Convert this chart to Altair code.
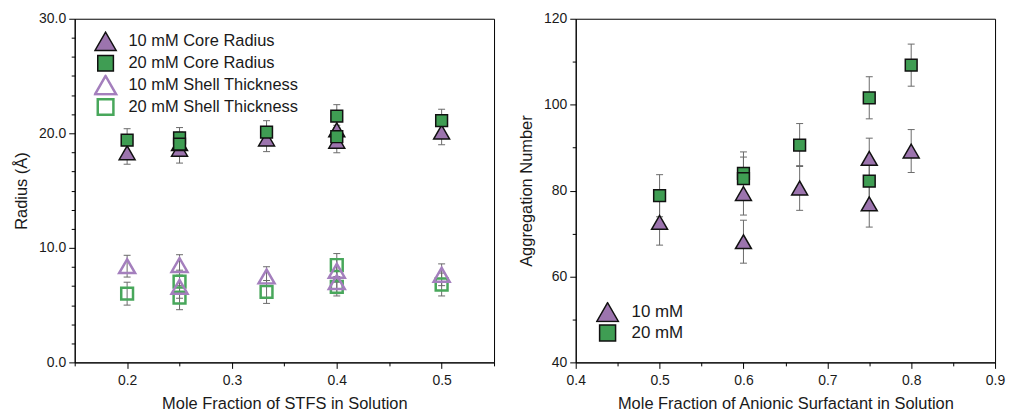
import altair as alt
import pandas as pd

FONT = "Liberation Sans"
PURPLE = "#9c74ae"
GREEN = "#3f9d53"
PURPLE_OPEN = "#a47fbd"
GREEN_OPEN = "#48a75b"
ERR = "#6a6a6a"

# ---------------- Left panel data ----------------
stfs_x = [0.2, 0.25, 0.25, 0.333, 0.4, 0.4, 0.5]
core_10 = [18.3, 18.6, 19.1, 19.5, 20.3, 19.3, 20.1]
core_10_err = [1.0, 1.2, 1.0, 1.1, 1.0, 1.0, 1.1]
core_20 = [19.4, 19.6, 19.05, 20.1, 21.5, 19.7, 21.1]
core_20_err = [1.0, 0.9, 1.0, 1.0, 1.0, 1.0, 1.0]
shell_10 = [8.4, 8.5, 6.6, 7.5, 8.0, 7.0, 7.65]
shell_10_err = [0.95, 0.9, 1.0, 0.85, 1.0, 1.0, 0.95]
shell_20 = [6.0, 7.05, 5.65, 6.15, 8.5, 6.6, 6.8]
shell_20_err = [1.0, 1.0, 1.05, 1.0, 1.0, 0.8, 1.0]

left_series = ["10 mM Core Radius", "20 mM Core Radius",
               "10 mM Shell Thickness", "20 mM Shell Thickness"]

# ---------------- Right panel data ----------------
anionic_x = [0.5, 0.6, 0.6, 0.667, 0.75, 0.75, 0.8]
agg_10 = [72.6, 79.3, 68.1, 80.6, 87.5, 76.9, 89.2]
agg_10_err = [5.3, 5.0, 5.0, 5.2, 4.7, 5.4, 5.0]
agg_20 = [78.8, 84.0, 82.8, 90.6, 101.6, 82.2, 109.2]
agg_20_err = [4.9, 5.0, 5.0, 5.0, 4.9, 5.0, 4.9]

right_series = ["10 mM", "20 mM"]

# tick positions
left_x_major = [0.2, 0.3, 0.4, 0.5]
left_x_minor = [0.15, 0.25, 0.35, 0.45, 0.55]
left_y_major = [0, 10, 20, 30]
left_y_minor = [1.667, 3.333, 5.0, 6.667, 8.333, 11.667, 13.333, 15.0,
                16.667, 18.333, 21.667, 23.333, 25.0, 26.667, 28.333]
right_x_major = [0.4, 0.5, 0.6, 0.7, 0.8, 0.9]
right_x_minor = [0.45, 0.55, 0.65, 0.75, 0.85]
right_y_major = [40, 60, 80, 100, 120]
right_y_minor = [50, 70, 90, 110]

SQUARE = "M-0.74,-0.74H0.74V0.74H-0.74Z"


def frame(xs, groups):
    rows = []
    for name, ys, errs in groups:
        for x, y, e in zip(xs, ys, errs):
            rows.append({"x": x, "y": y, "lo": y - e, "hi": y + e, "series": name})
    return pd.DataFrame(rows)


left_df = frame(stfs_x, [
    (left_series[0], core_10, core_10_err),
    (left_series[1], core_20, core_20_err),
    (left_series[3], shell_20, shell_20_err),
    (left_series[2], shell_10, shell_10_err),
])
right_df = frame(anionic_x, [
    (right_series[0], agg_10, agg_10_err),
    (right_series[1], agg_20, agg_20_err),
])


def major_axis(values, fmt, title, orient):
    return alt.Axis(values=values, format=fmt, title=title, orient=orient,
                    tickSize=6, labelPadding=3 if orient == "left" else 5,
                    titlePadding=9 if orient == "left" else 8,
                    labelFlush=False, grid=False)


def minor_axis(values, orient):
    return alt.Axis(values=values, labels=False, domain=False, tickSize=3.5,
                    title=None, orient=orient, grid=False)


def panel(df, xdom, ydom, xmaj, xmin, ymaj, ymin, xfmt, yfmt, xtitle, ytitle,
          domain, shapes, fills, strokes, widths, legend):
    xs = alt.Scale(domain=xdom, nice=False, zero=False)
    ys = alt.Scale(domain=ydom, nice=False, zero=False)
    base = alt.Chart(df)
    rule = base.mark_rule(color=ERR, strokeWidth=1).encode(
        x=alt.X("x:Q", scale=xs, axis=major_axis(xmaj, xfmt, xtitle, "bottom")),
        y=alt.Y("lo:Q", scale=ys, axis=major_axis(ymaj, yfmt, ytitle, "left")),
        y2="hi:Q",
    )
    minor = base.mark_point(opacity=0, size=1).encode(
        x=alt.X("x:Q", scale=xs, axis=minor_axis(xmin, "bottom")),
        y=alt.Y("y:Q", scale=ys, axis=minor_axis(ymin, "left")),
    )
    cap_lo = base.mark_tick(orient="horizontal", color=ERR, size=7, thickness=1,
                            opacity=1).encode(x=alt.X("x:Q", scale=xs, axis=None),
                                              y=alt.Y("lo:Q", scale=ys, axis=None))
    cap_hi = base.mark_tick(orient="horizontal", color=ERR, size=7, thickness=1,
                            opacity=1).encode(x=alt.X("x:Q", scale=xs, axis=None),
                                              y=alt.Y("hi:Q", scale=ys, axis=None))
    pts = base.mark_point(opacity=1, size=256).encode(
        x=alt.X("x:Q", scale=xs, axis=None),
        y=alt.Y("y:Q", scale=ys, axis=None),
        shape=alt.Shape("series:N", scale=alt.Scale(domain=domain, range=shapes),
                        legend=legend),
        fill=alt.Fill("series:N", scale=alt.Scale(domain=domain, range=fills),
                      legend=legend),
        stroke=alt.Stroke("series:N", scale=alt.Scale(domain=domain, range=strokes),
                          legend=legend),
        strokeWidth=alt.StrokeWidth("series:N",
                                    scale=alt.Scale(type="ordinal", domain=domain,
                                                    range=widths),
                                    legend=legend),
    )
    return alt.layer(rule, minor, cap_lo, cap_hi, pts).resolve_axis(
        x="independent", y="independent"
    ).properties(width=421, height=345)


left_legend = alt.Legend(title=None, orient="none", legendX=19, legendY=12,
                         symbolSize=450, labelFontSize=16.5, labelFont=FONT,
                         labelColor="#1a1a1a", rowPadding=0, padding=0,
                         clipHeight=21.3, labelOffset=11, labelLimit=0)
right_legend = alt.Legend(title=None, orient="none", legendX=20, legendY=284,
                          symbolSize=470, labelFontSize=17, labelFont=FONT,
                          labelColor="#1a1a1a", rowPadding=0, padding=0,
                          clipHeight=21, labelOffset=12, labelLimit=0)

left = panel(left_df, [0.15, 0.55], [0, 30], left_x_major, left_x_minor,
             left_y_major, left_y_minor, ".1f", ".1f",
             "Mole Fraction of STFS in Solution", "Radius (Å)",
             left_series,
             ["triangle-up", SQUARE, "triangle-up", SQUARE],
             [PURPLE, GREEN, "transparent", "transparent"],
             ["#111111", "#111111", PURPLE_OPEN, GREEN_OPEN],
             [1.5, 1.5, 2.5, 2.5], left_legend)

right = panel(right_df, [0.4, 0.9], [40, 120], right_x_major, right_x_minor,
              right_y_major, right_y_minor, ".1f", "d",
              "Mole Fraction of Anionic Surfactant in Solution", "Aggregation Number",
              right_series,
              ["triangle-up", SQUARE],
              [PURPLE, GREEN],
              ["#111111", "#111111"],
              [1.5, 1.5], right_legend)

chart = alt.hconcat(left, right, spacing=23).resolve_scale(
    shape="independent", fill="independent", stroke="independent",
    strokeWidth="independent"
).resolve_legend(
    shape="independent", fill="independent", stroke="independent",
    strokeWidth="independent"
).properties(
    padding={"left": 13, "top": 10, "right": 4, "bottom": 2},
    background="white"
).configure_view(
    stroke="black", strokeWidth=1
).configure_axis(
    domainColor="black", tickColor="black", domainWidth=1, tickWidth=1,
    labelFont=FONT, titleFont=FONT, labelFontSize=14, titleFontSize=16.5,
    titleFontWeight="normal", labelColor="#1a1a1a", titleColor="#1a1a1a"
)

chart.save("out.html", embed_options={"renderer": "svg", "actions": False})
